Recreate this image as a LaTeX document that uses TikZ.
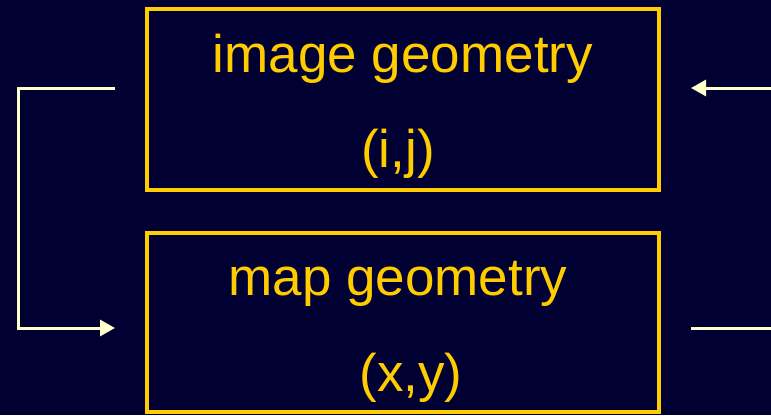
\documentclass[tikz,border=0pt]{standalone}
\usepackage{fontspec}
\setmainfont{Liberation Sans}
\usetikzlibrary{arrows.meta}
\definecolor{bgnavy}{HTML}{000033}
\definecolor{boxyellow}{HTML}{FFCC00}
\definecolor{arrowcream}{HTML}{FFFFCC}
\tikzset{
  geobox/.style={draw=boxyellow, line width=4pt, minimum width=512pt, inner sep=0pt},
  geotext/.style={text=boxyellow, anchor=base, inner sep=0pt, font=\fontsize{53}{60}\selectfont},
  link/.style={draw=arrowcream, line width=3pt},
  linkarrow/.style={link, -{Triangle[length=15pt,width=16pt]}}
}
\begin{document}
\begin{tikzpicture}[x=1pt,y=-1pt]
\fill[bgnavy] (0,0) rectangle (771,415);
\useasboundingbox (0,0) rectangle (771,415);
\node[geobox, minimum height=181pt] (img) at (403,99.5) {};
\node[geobox, minimum height=179pt] (map) at (403,322.5) {};
\node[geotext] (t1) at (403,72) {image geometry};
\node[geotext] (t2) at (398,167) {(i,j)};
\node[geotext] (t3) at (398,295) {map geometry};
\node[geotext] (t4) at (411,391) {(x,y)};
\coordinate (la) at (115,88);
\coordinate (lb) at (18,88);
\coordinate (lc) at (18,328);
\coordinate (ld) at (115,328);
\coordinate (ra) at (771,88);
\coordinate (rb) at (691,88);
\coordinate (rc) at (771,328);
\coordinate (rd) at (691,328);
\draw[linkarrow] (la) -- (lb) -- (lc) -- (ld);
\draw[linkarrow] (ra) -- (rb);
\draw[link] (rc) -- (rd);
\end{tikzpicture}
\end{document}
